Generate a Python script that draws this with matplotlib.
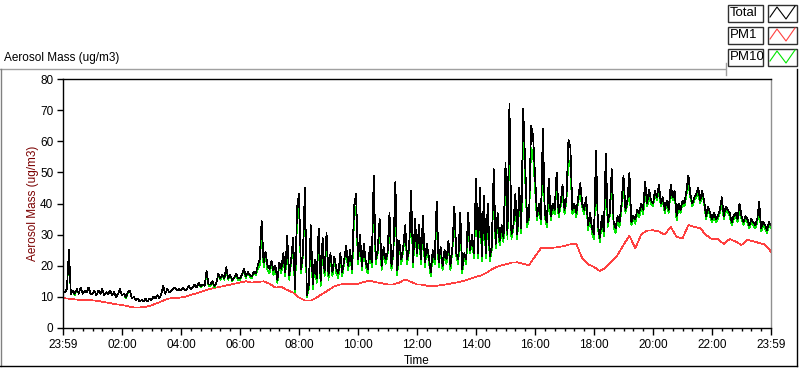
import numpy as np
import matplotlib.pyplot as plt
from matplotlib.lines import Line2D
from matplotlib.patches import Rectangle

plt.rcParams['font.family'] = ['Liberation Sans', 'DejaVu Sans']
plt.rcParams['font.size'] = 8

# Total aerosol mass (ug/m3), one reading every 4 min, 23:59 -> 23:59
# (one row = one hour)
total = [
    12, 11.5, 12.5, 25, 11, 12, 11, 12.5, 11, 13, 11, 12, 11.5, 13, 11,
    11, 12, 10.5, 12, 11, 12.5, 10.5, 11.5, 11, 12, 10.5, 11.5, 10, 11, 12.5,
    10.5, 11, 10, 11.5, 12, 9.5, 10, 9, 9.5, 8.5, 9, 8.5, 9.5, 8.5, 9.5,
    9, 10, 9.5, 10.5, 9.5, 11, 13.5, 11, 12.5, 11.5, 12, 12.5, 13, 12, 12.5,
    12, 13, 12, 12.5, 13.5, 12.5, 13, 14, 13, 14.5, 13.5, 14, 13.5, 18.5, 14,
    14, 15, 13.5, 14.5, 17.5, 16, 17, 16, 19.5, 16, 17, 15.5, 16, 17.5, 16,
    16, 17, 19, 16.5, 18, 17, 16.5, 18, 17.5, 20, 22, 34.5, 21, 24.5, 20,
    19, 21.5, 18.5, 20, 15.5, 21, 19, 24, 18, 29.5, 17, 22, 29, 12.5, 38.5,
    43, 19, 24, 45, 10.5, 14, 33, 14, 22, 16, 32, 15, 29, 18, 30.5,
    17, 24, 18, 23, 19, 17.5, 24, 18, 22, 26.5, 20, 25, 19, 39, 43,
    22, 30, 20, 27, 21, 19, 26, 21, 49, 22, 25, 35, 20, 26, 22,
    24, 37, 20, 25, 47, 18.5, 28, 22, 26, 33, 22, 26, 44, 21, 35,
    24, 33, 22, 36, 21, 27, 23, 18, 25, 22, 40.5, 21, 26, 20, 25,
    22, 28, 20, 26, 39, 24, 22, 37, 19, 24, 22, 37, 25, 30, 24,
    48, 24, 45, 23, 42.5, 24, 40, 23, 26, 51, 27, 37, 28, 33, 29,
    53, 30, 72, 30, 33, 43, 30, 45, 32, 70.5, 53, 34, 36, 65, 62,
    49.5, 36, 40, 35, 64, 37, 34, 48, 36, 40, 38, 50, 37, 40, 46,
    38, 42, 60.5, 58, 38, 40, 37, 42, 46.5, 40, 38, 42, 33, 37, 32,
    30, 57, 33, 29, 36, 31, 56, 34, 37, 51, 34, 32, 36, 34, 40,
    49, 38, 41, 50, 34, 36, 35, 38, 37, 40, 38, 47, 40, 44.5, 41,
    40, 44, 42, 46, 40, 42, 38, 41, 38, 46, 42, 44, 36, 40, 38,
    41, 40, 44, 49, 43, 40, 42, 43, 45, 41, 44, 41, 36, 39, 37,
    35, 37, 35, 36, 38, 42, 36, 39, 38, 37, 34, 36, 37, 35, 40,
    36, 34, 36, 35, 33, 35, 34, 33, 35, 40.5, 32, 34, 33, 31.5, 34,
    33,
]

# PM10 (ug/m3), same 4 min steps
pm10 = [
    12, 11.5, 12.5, 24, 11, 12, 10.5, 12.5, 11, 13, 11, 12, 11.5, 13, 11,
    11, 12, 10.5, 12, 11, 12.5, 10.5, 11.5, 11, 12, 10.5, 11.5, 10, 11, 12.5,
    10.5, 11, 9.5, 11.5, 12, 9.5, 10, 9, 9.5, 8.5, 9, 8.5, 9.5, 8.5, 9.5,
    9, 10, 9.5, 10.5, 9.5, 11, 13.5, 11, 12.5, 11.5, 12, 12.5, 13, 12, 12.5,
    12, 13, 12, 12.5, 13.5, 12.5, 13, 14, 13, 14.5, 13, 14, 13.5, 17.5, 13.5,
    13.5, 15, 13, 14.5, 17, 15.5, 17, 15.5, 19, 15.5, 17, 15, 16, 17, 15.5,
    15.5, 17, 18.5, 16, 18, 16.5, 16, 18, 17, 19, 20, 31, 19.5, 23, 18.5,
    17.5, 21, 17, 19.5, 14.5, 20.5, 17.5, 23, 16.5, 27, 15.5, 21, 26, 11.5, 35,
    39, 17.5, 23, 40, 10, 12.5, 30, 12.5, 21, 14.5, 29, 13.5, 26, 16.5, 28,
    15.5, 23, 16.5, 22, 17.5, 16, 23, 16.5, 21, 25, 18.5, 24, 17.5, 35, 39,
    20.5, 28, 18.5, 26, 19.5, 17.5, 25, 19.5, 44, 20.5, 24, 32, 18.5, 25, 20.5,
    23, 34, 18.5, 24, 42, 17, 27, 20.5, 25, 31, 20.5, 25, 40, 19.5, 32,
    23, 31, 20.5, 33, 19.5, 26, 21.5, 16.5, 24, 20.5, 37, 19.5, 25, 18.5, 24,
    20.5, 27, 18.5, 25, 35, 23, 20.5, 34, 17.5, 23, 20.5, 34, 24, 28, 22.5,
    44, 22.5, 41, 21.5, 39, 22.5, 37, 21.5, 25, 46, 25.5, 35, 26.5, 31, 27.5,
    48, 28.5, 64, 28.5, 32, 40, 28.5, 42, 30.5, 63, 48, 32.5, 35, 58, 56,
    45, 34.5, 39, 33.5, 57, 35.5, 32.5, 44, 34.5, 39, 36.5, 46, 35.5, 39, 43,
    36.5, 41, 54, 52, 36.5, 39, 35.5, 41, 43, 39, 36.5, 41, 31.5, 36, 30.5,
    28.5, 51, 32, 27.5, 35, 29.5, 50, 32.5, 36, 47, 32.5, 30.5, 35, 32.5, 38.5,
    45, 37, 40, 45, 33, 35, 33.5, 37, 35.5, 39, 36.5, 43, 39, 42, 40,
    39, 43, 41, 44, 39, 41, 37, 40, 37, 44, 41, 43, 34.5, 39, 37,
    40, 39, 43, 46, 42, 39, 41, 42, 43, 40, 43, 40, 35, 38, 36,
    34, 36, 34, 35, 37, 40, 35, 38, 37, 36, 33, 35, 36, 34, 38,
    35, 33, 35, 34, 32, 34, 33, 32, 34, 38, 31, 33, 32, 30.5, 33,
    32,
]

# PM1 (ug/m3), one reading every 12 min (one row = two hours)
pm1 = [
    9.6, 9.4, 9.2, 9.0, 9.0, 8.9, 8.7, 8.3, 8.0, 7.6,
    7.4, 7.0, 6.6, 6.6, 6.8, 7.3, 8.0, 8.8, 9.5, 9.6,
    9.8, 10.2, 10.8, 11.4, 12.0, 12.6, 13.0, 13.4, 13.8, 14.2,
    14.6, 15.0, 14.6, 14.8, 15.0, 14.2, 13.0, 13.2, 12.2, 11.4,
    9.8, 8.8, 8.8, 9.8, 11.0, 12.2, 13.4, 14.0, 14.2, 14.2,
    14.2, 14.8, 15.2, 14.7, 14.4, 14.0, 14.0, 14.6, 15.6, 14.8,
    14.0, 13.9, 13.4, 13.4, 13.8, 14.0, 14.4, 14.7, 15.2, 15.8,
    16.4, 17.0, 18.0, 19.2, 20.0, 20.4, 21.0, 21.1, 20.6, 20.2,
    23.0, 25.6, 25.8, 25.8, 26.0, 26.4, 26.9, 27.0, 22.4, 20.5,
    19.6, 18.3, 19.4, 21.3, 23.5, 26.7, 29.7, 25.6, 30.1, 31.3,
    31.4, 31.0, 30.0, 32.5, 29.3, 28.8, 33.1, 32.5, 32.0, 29.9,
    28.5, 28.5, 27.0, 28.6, 27.8, 26.7, 28.3, 27.9, 27.3, 26.8,
    24.5,
]

tick_labels = ['23:59', '02:00', '04:00', '06:00', '08:00', '10:00', '12:00',
               '14:00', '16:00', '18:00', '20:00', '22:00', '23:59']
legend_names = ['Total', 'PM1', 'PM10']
colors = ['black', '#ff4040', '#00e600']

W, H = 800, 369
fig = plt.figure(figsize=(W / 100, H / 100), dpi=100)


def fx(px):
    return px / W


def fy(py):
    return 1 - py / H


# outer panel frame
fig.add_artist(Line2D([fx(0), fx(725)], [fy(69), fy(69)], color='#a0a0a0', lw=1))
fig.add_artist(Line2D([fx(726), fx(726)], [fy(63), fy(75)], color='#a0a0a0', lw=1))
fig.add_artist(Line2D([fx(1), fx(1)], [fy(69), fy(366)], color='#808080', lw=1))
fig.add_artist(Line2D([fx(0), fx(797)], [fy(366), fy(366)], color='black', lw=1))
fig.add_artist(Line2D([fx(797), fx(797)], [fy(69), fy(366)], color='black', lw=1))

fig.text(fx(4), fy(58), 'Aerosol Mass (ug/m3)', fontsize=8.5, va='center', ha='left')

ax = fig.add_axes([fx(63), fy(328), fx(771) - fx(63), fy(79) - fy(328)])
t_total = np.linspace(0, 24, len(total))
t_pm1 = np.linspace(0, 24, len(pm1))
ax.plot(t_pm1, pm1, color=colors[1], lw=0.5, antialiased=False)
ax.plot(t_total, pm10, color=colors[2], lw=0.5, antialiased=False)
ax.plot(t_total, total, color=colors[0], lw=0.5, antialiased=False)

ax.set_xlim(0, 24)
ax.set_ylim(0, 80)
ax.set_xticks(np.arange(0, 25, 2))
ax.set_xticklabels(tick_labels)
ax.set_xticks(np.arange(0, 24.01, 1 / 3), minor=True)
ax.set_yticks(range(0, 81, 10))
ax.tick_params(axis='both', which='major', direction='out', width=1, color='black',
               labelsize=8.5, pad=3)
ax.tick_params(axis='x', which='major', length=5)
ax.tick_params(axis='y', which='major', length=4)
ax.tick_params(axis='x', which='minor', length=2.5, width=1)
for side in ['left', 'top', 'bottom']:
    ax.spines[side].set_color('black')
ax.spines['right'].set_color('#909090')
for s in ax.spines.values():
    s.set_linewidth(1)

ax.set_ylabel('Aerosol Mass (ug/m3)', color='#7a0000', fontsize=8.5)
ax.yaxis.set_label_coords(-0.034, 0.5)
ax.set_xlabel('Time', fontsize=8.5)
ax.xaxis.set_label_coords(0.5, -0.11)

# legend boxes
rows = [(5, 22), (27, 44), (49, 66)]
for name, col, (y0, y1) in zip(legend_names, colors, rows):
    fig.add_artist(Rectangle((fx(728), fy(y1)), fx(763) - fx(728), fy(y0) - fy(y1),
                             transform=fig.transFigure, fill=False,
                             edgecolor='#303030', lw=1))
    fig.text(fx(730), fy((y0 + y1) / 2), name, fontsize=9.5, va='center', ha='left')
    fig.add_artist(Rectangle((fx(768), fy(y1)), fx(797) - fx(768), fy(y0) - fy(y1),
                             transform=fig.transFigure, fill=False,
                             edgecolor='#303030', lw=1))
    zx = [770, 777, 786, 795]
    zy = [y1 - 5, y0 + 2, y1 - 3, y0 + 1]
    fig.add_artist(Line2D([fx(v) for v in zx], [fy(v) for v in zy],
                          color=col, lw=0.8))

fig.savefig('out.png', dpi=100)
